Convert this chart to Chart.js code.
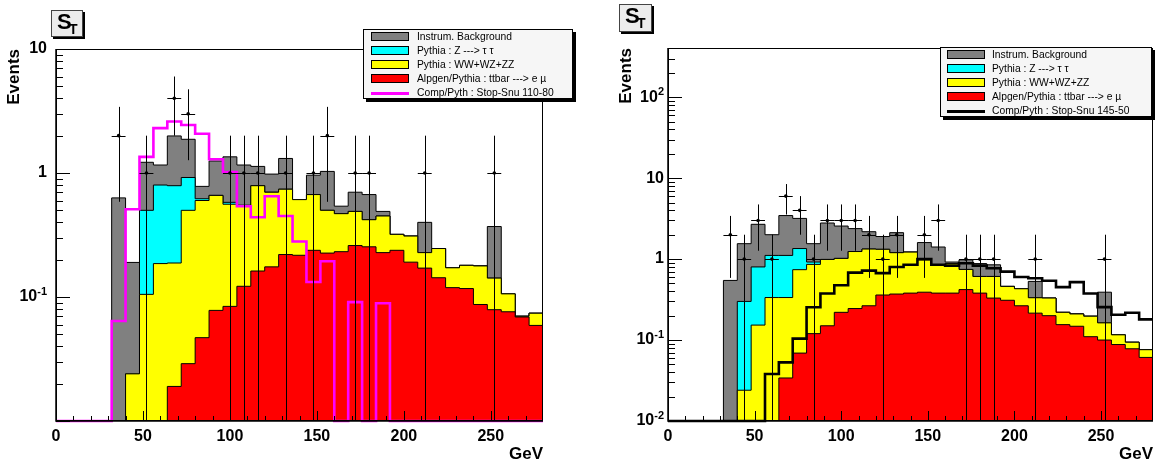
<!DOCTYPE html>
<html>
<head>
<meta charset="utf-8">
<script src="https://cdn.jsdelivr.net/npm/chart.js@4/dist/chart.umd.min.js"></script>
<style>
  html, body { margin: 0; padding: 0; background: #fff; }
  body { width: 1161px; height: 463px; position: relative; overflow: hidden; font-family: "Liberation Sans", Arial, sans-serif; }
  canvas { position: absolute; top: 0; }
  .tbox { position: absolute; box-sizing: border-box; background: #ececec; border: 1px solid #444; box-shadow: 2px 2px 0 #000; font-weight: bold; color: #000; }
  .tbox .s { position: absolute; left: 5px; top: 0px; font-size: 22px; line-height: 22px; }
  .tbox .t { position: absolute; left: 17px; top: 11px; font-size: 14px; line-height: 14px; }
  .legend { position: absolute; box-sizing: border-box; background: #f6f6f6; border: 1px solid #000; box-shadow: 3px 3px 0 #000; font-size: 10.3px; color: #000; }
  .legend .row { position: absolute; height: 14px; line-height: 14px; white-space: nowrap; }
  .legend .sw { position: absolute; top: 2px; width: 38px; height: 9px; box-sizing: border-box; border: 1px solid #000; }
  .legend .ln { position: absolute; top: 6px; width: 38px; height: 3px; }
</style>
</head>
<body>
<canvas id="chartL" width="580" height="463" style="left:0"></canvas>
<canvas id="chartR" width="581" height="463" style="left:580px"></canvas>

<div class="tbox" style="left:51px;top:10px;width:32px;height:27px"><span class="s">S</span><span class="t">T</span></div>
<div class="tbox" style="left:619px;top:4px;width:33px;height:28px"><span class="s">S</span><span class="t">T</span></div>

<div class="legend" id="legendL" style="left:363px;top:29px;width:210px;height:70px"></div>
<div class="legend" id="legendR" style="left:940px;top:47px;width:212px;height:70px"></div>

<script>
// 35 bins of 8 GeV, lower edges
const binLow = [0, 8, 16, 24, 32, 40, 48, 56, 64, 72, 80, 88, 96, 104, 112, 120, 128, 136,
  144, 152, 160, 168, 176, 184, 192, 200, 208, 216, 224, 232, 240, 248, 256, 264, 272];
const xMax = 280;

// left panel: cumulative stack tops (Events per bin)
const instrTopL = [0, 0, 0, 0, 0.63, 0.19, 1.22, 1.16, 1.99, 1.87, 0.78, 1.25, 1.35, 1.16, 1.13, 0.98, 1.31, 0.61,
  0.96, 1.03, 0.54, 0.70, 0.67, 0.49, 0.32, 0.31, 0.40, 0.246, 0.172, 0.18, 0.178, 0.37, 0.106, 0.07, 0.074];
const ztautauTopL = [0, 0, 0, 0, 0, 0.024, 0.50, 0.80, 0.79, 0.92, 0.62, 0.66, 0.58, 0.55, 0.79, 0.70, 0.74, 0.61,
  0.67, 0.50, 0.47, 0.49, 0.42, 0.45, 0.32, 0.31, 0.228, 0.246, 0.172, 0.18, 0.178, 0.142, 0.106, 0.07, 0.074];
const dibosonTopL = [0, 0, 0, 0, 0, 0.024, 0.105, 0.186, 0.188, 0.50, 0.60, 0.66, 0.56, 0.54, 0.79, 0.70, 0.74, 0.61,
  0.67, 0.50, 0.47, 0.49, 0.42, 0.45, 0.32, 0.31, 0.228, 0.246, 0.172, 0.18, 0.178, 0.142, 0.106, 0.07, 0.074];
const ttbarL = [0, 0, 0, 0, 0, 0, 0, 0, 0.019, 0.029, 0.047, 0.078, 0.084, 0.122, 0.162, 0.175, 0.22, 0.217,
  0.238, 0.226, 0.232, 0.26, 0.254, 0.228, 0.238, 0.191, 0.171, 0.143, 0.119, 0.117, 0.087, 0.079, 0.076, 0.069, 0.059];
const signalL = [0, 0, 0, 0, 0.064, 0.51, 1.35, 2.3, 2.6, 2.44, 2.07, 1.29, 1.02, 0.54, 0.44, 0.65, 0.45, 0.28,
  0.132, 0.194, 0, 0.091, 0, 0.089, 0, 0, 0, 0, 0, 0, 0, 0, 0, 0, 0];
const dataBinsL = [36, 52, 68, 76, 100, 108, 116, 132, 148, 156, 172, 180, 212, 252];
const dataCountsL = [2, 1, 4, 3, 1, 1, 1, 1, 1, 2, 1, 1, 1, 1];

// right panel
const instrTopR = [0, 0, 0, 0, 0.545, 1.55, 2.69, 2.0, 3.45, 3.18, 1.55, 2.79, 2.56, 2.38, 2.18, 1.9, 2.12, 1.22,
  1.6, 1.41, 0.92, 0.98, 0.88, 0.85, 0.46, 0.43, 0.53, 0.33, 0.22, 0.21, 0.197, 0.39, 0.116, 0.094, 0.076];
const ztautauTopR = [0, 0, 0, 0, 0, 0.30, 0.80, 1.11, 1.11, 1.35, 0.92, 0.99, 1.02, 1.24, 1.33, 1.32, 1.2, 1.22,
  0.98, 0.84, 0.88, 0.745, 0.61, 0.61, 0.46, 0.43, 0.333, 0.33, 0.22, 0.21, 0.197, 0.163, 0.116, 0.094, 0.076];
const dibosonTopR = [0, 0, 0, 0, 0, 0.024, 0.153, 0.335, 0.335, 0.74, 0.86, 0.99, 1.02, 1.24, 1.33, 1.32, 1.2, 1.22,
  0.98, 0.84, 0.88, 0.745, 0.61, 0.61, 0.46, 0.43, 0.333, 0.33, 0.22, 0.21, 0.197, 0.163, 0.116, 0.094, 0.076];
const ttbarR = [0, 0, 0, 0, 0, 0, 0, 0, 0.034, 0.069, 0.12, 0.15, 0.22, 0.245, 0.265, 0.36, 0.37, 0.38,
  0.39, 0.38, 0.38, 0.42, 0.38, 0.33, 0.31, 0.265, 0.215, 0.20, 0.155, 0.148, 0.11, 0.10, 0.088, 0.078, 0.061];
const signalR = [0, 0, 0, 0, 0, 0, 0, 0.038, 0.053, 0.104, 0.254, 0.375, 0.475, 0.68, 0.72, 0.67, 0.80, 0.85,
  1.0, 0.85, 0.83, 0.89, 0.83, 0.77, 0.70, 0.60, 0.58, 0.54, 0.45, 0.52, 0.375, 0.255, 0.205, 0.217, 0.18];
const dataBinsR = [36, 44, 52, 60, 68, 76, 84, 92, 100, 108, 116, 124, 132, 148, 156, 172, 180, 188, 212, 252];
const dataCountsR = [2, 1, 3, 1, 6, 4, 1, 3, 3, 3, 2, 1, 2, 2, 3, 1, 1, 1, 1, 1];

// axis labels
const xLabels = [0, 50, 100, 150, 200, 250];
const yLabelsL = [0.1, 1, 10];
const yLabelsR = [0.01, 0.1, 1, 10, 100];

const legendNames = ["Instrum. Background", "Pythia : Z ---> \u03c4 \u03c4", "Pythia : WW+WZ+ZZ",
  "Alpgen/Pythia : ttbar ---> e \u00b5"];
const colors = ["#808080", "#00ffff", "#ffff00", "#ff0000"];

const FONT = "'Liberation Sans', Arial, sans-serif";

function stepPoints(values, floor) {
  let pts = binLow.map((x, i) => ({ x: x, y: values[i] || floor }));
  pts.push({ x: xMax, y: values[values.length - 1] || floor });
  return pts;
}

// ROOT-like frame, inner ticks, 10^n labels and sqrt(N) error bars
const rootFrame = {
  id: "rootFrame",
  afterDatasetsDraw(chart, args, opts) {
    const { ctx, chartArea: a, scales } = chart;
    const x = scales.x, y = scales.y;
    ctx.save();
    ctx.strokeStyle = "#000";
    ctx.lineWidth = 1;

    let ds = chart.data.datasets.find((d) => d.errorBars);
    ctx.beginPath();
    ds.data.forEach((pt) => {
      let err = Math.sqrt(pt.y);
      let px = Math.round(x.getPixelForValue(pt.x)) + 0.5;
      let py = Math.round(y.getPixelForValue(pt.y)) + 0.5;
      let lo = pt.y - err;
      ctx.moveTo(px, y.getPixelForValue(pt.y + err));
      ctx.lineTo(px, lo > y.min ? y.getPixelForValue(lo) : a.bottom);
      ctx.moveTo(x.getPixelForValue(pt.x - 4), py);
      ctx.lineTo(x.getPixelForValue(pt.x + 4), py);
    });
    ctx.stroke();

    ctx.beginPath();
    y.ticks.forEach((t) => {
      let py = Math.round(y.getPixelForValue(t.value)) + 0.5;
      let lg = Math.log10(t.value);
      let len = Math.abs(lg - Math.round(lg)) < 1e-6 ? 14 : 7;
      ctx.moveTo(a.left, py);
      ctx.lineTo(a.left + len, py);
    });
    x.ticks.forEach((t) => {
      let px = Math.round(x.getPixelForValue(t.value)) + 0.5;
      let len = t.value % 50 === 0 ? 10 : 5;
      ctx.moveTo(px, a.bottom);
      ctx.lineTo(px, a.bottom - len);
    });
    ctx.stroke();

    ctx.strokeRect(Math.round(a.left) + 0.5, Math.round(a.top) + 0.5,
      Math.round(a.width) - 1, Math.round(a.height) - 1);
    ctx.lineWidth = 1.5;
    ctx.beginPath();
    ctx.moveTo(a.left, a.top);
    ctx.lineTo(a.left, a.bottom);
    ctx.lineTo(a.right, a.bottom);
    ctx.stroke();

    // decade labels with a real superscript exponent
    ctx.fillStyle = "#000";
    ctx.textAlign = "right";
    ctx.textBaseline = "middle";
    opts.yLabels.forEach((v) => {
      let e = Math.round(Math.log10(v));
      let py = y.getPixelForValue(v);
      let right = a.left - opts.labelPad;
      if (e === 0 || e === 1) {
        ctx.font = "bold 16px " + FONT;
        ctx.fillText(e === 0 ? "1" : "10", right, py);
      } else {
        ctx.font = "bold 11px " + FONT;
        let exp = String(e);
        let w = ctx.measureText(exp).width;
        ctx.fillText(exp, right, py - 5);
        ctx.font = "bold 16px " + FONT;
        ctx.fillText("10", right - w, py);
      }
    });
    ctx.restore();
  },
};

function makePanel(id, p) {
  const yMin = p.yMin;
  const hist = (vals, color, order) => ({
    data: stepPoints(vals, yMin), stepped: "before", fill: "start",
    backgroundColor: color, borderColor: "#000", borderWidth: 1, pointRadius: 0, order: order,
  });
  return new Chart(document.getElementById(id), {
    type: "line",
    data: {
      datasets: [
        { type: "scatter", errorBars: true, data: p.dataBins.map((b, i) => ({ x: b, y: p.dataCounts[i] })),
          pointRadius: 1.8, pointBackgroundColor: "#000", pointBorderWidth: 0, order: 0 },
        { data: stepPoints(p.signal, yMin), stepped: "before", fill: false, borderColor: p.signalColor,
          borderWidth: 2.6, pointRadius: 0, order: 1, clip: 4 },
        hist(p.ttbar, colors[3], 2),
        hist(p.diboson, colors[2], 3),
        hist(p.ztautau, colors[1], 4),
        hist(p.instr, colors[0], 5),
      ],
    },
    options: {
      responsive: false,
      animation: false,
      devicePixelRatio: 1,
      events: [],
      layout: { padding: { top: p.padTop, right: p.padRight, left: 0, bottom: 0 } },
      plugins: {
        legend: { display: false },
        tooltip: { enabled: false },
        rootFrame: { yLabels: p.yLabels, labelPad: p.labelPad },
      },
      scales: {
        x: {
          type: "linear", min: 0, max: xMax,
          grid: { display: false, drawTicks: false }, border: { display: false },
          afterBuildTicks: (s) => {
            let t = [];
            for (let v = 0; v < xMax; v += 10) t.push({ value: v });
            s.ticks = t;
          },
          afterFit: (s) => { s.height = 42; },
          ticks: {
            autoSkip: false, maxRotation: 0, padding: 6, color: "#000",
            font: { family: FONT, size: 16, weight: "bold" },
            callback: (v) => (xLabels.includes(v) ? String(v) : ""),
          },
          title: { display: true, text: "GeV", align: "end", color: "#000", padding: 0,
            font: { family: FONT, size: 17, weight: "bold", lineHeight: 1 } },
        },
        y: {
          type: "logarithmic", min: yMin, max: p.yMax,
          grid: { display: false, drawTicks: false }, border: { display: false },
          afterBuildTicks: (s) => {
            let t = [];
            for (let e = -2; e <= 2; e++) {
              for (let m = 1; m <= 9; m++) {
                let v = +(m * Math.pow(10, e)).toPrecision(3);
                if (v >= yMin && v <= p.yMax) t.push({ value: v });
              }
            }
            s.ticks = t;
          },
          afterFit: (s) => { s.width = p.axisWidth; },
          ticks: { display: false },
          title: { display: true, text: "Events", align: "end", color: "#000", padding: { top: p.titlePad },
            font: { family: FONT, size: 17, weight: "bold", lineHeight: 1 } },
        },
      },
    },
    plugins: [rootFrame],
  });
}

function buildLegend(id, signalName, signalColor, swLeft, txtLeft) {
  const box = document.getElementById(id);
  let html = "";
  legendNames.concat([signalName]).forEach((name, i) => {
    let mark = i < 4
      ? `<span class="sw" style="left:${swLeft}px;background:${colors[i]}"></span>`
      : `<span class="ln" style="left:${swLeft}px;background:${signalColor}"></span>`;
    html += `<div class="row" style="left:0;top:${i * 14}px;width:100%">${mark}<span style="position:absolute;left:${txtLeft}px">${name}</span></div>`;
  });
  box.innerHTML = html;
}

makePanel("chartL", {
  instr: instrTopL, ztautau: ztautauTopL, diboson: dibosonTopL, ttbar: ttbarL, signal: signalL,
  signalColor: "#ff00ff", dataBins: dataBinsL, dataCounts: dataCountsL, yLabels: yLabelsL,
  yMin: 0.01, yMax: 10, padTop: 49, padRight: 37, axisWidth: 56, labelPad: 9, titlePad: 6,
});
makePanel("chartR", {
  instr: instrTopR, ztautau: ztautauTopR, diboson: dibosonTopR, ttbar: ttbarR, signal: signalR,
  signalColor: "#000000", dataBins: dataBinsR, dataCounts: dataCountsR, yLabels: yLabelsR,
  yMin: 0.01, yMax: 405, padTop: 48, padRight: 8, axisWidth: 88, labelPad: 4, titlePad: 38,
});

buildLegend("legendL", "Comp/Pyth : Stop-Snu 110-80", "#ff00ff", 7, 53);
buildLegend("legendR", "Comp/Pyth : Stop-Snu 145-50", "#000000", 6, 51);
</script>
</body>
</html>
